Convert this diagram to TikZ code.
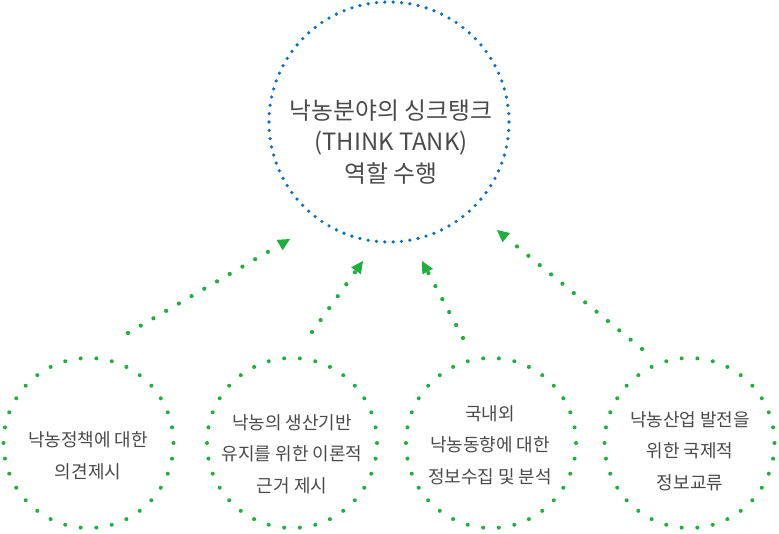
\documentclass[tikz,border=0pt]{standalone}
\usepackage{fontspec}
\newfontfamily\kr{Noto Sans CJK KR}
\usetikzlibrary{arrows.meta}
\definecolor{dotblue}{HTML}{0A6FC2}
\definecolor{dotgreen}{HTML}{1DB03C}
\definecolor{txt}{HTML}{4A4A4A}
\tikzset{
  bigring/.style={circle, minimum size=240pt, inner sep=0pt, draw=dotblue, line width=3.6pt, line cap=round, dash pattern=on 0pt off 8.3776pt},
  smallring/.style={circle, minimum size=170pt, inner sep=0pt, draw=dotgreen, line width=4pt, line cap=round, dash pattern=on 0pt off 15.708pt},
  bigtext/.style={align=center, text=txt, font=\kr\fontsize{23.8}{31.5}\selectfont},
  smalltext/.style={align=center, text=txt, font=\kr\fontsize{18}{31.5}\selectfont},
  dotarrow/.style={draw=dotgreen, line width=4.2pt, line cap=round, dash pattern=on 0pt off 14.7pt, -{Triangle[length=12pt,width=12pt,line width=0pt,fill=dotgreen]}}
}
\begin{document}
\begin{tikzpicture}[x=1pt,y=-1pt]
\useasboundingbox (0,0) rectangle (779,533);
\node[bigring] (b) at (389,122) {};
\node[bigtext] (tb) at (391,142) {낙농분야의 싱크탱크\\(THINK TANK)\\역할 수행};
\node[smallring] (c1) at (88.5,443) {};
\node[smallring] (c2) at (292,443) {};
\node[smallring] (c3) at (491,443) {};
\node[smallring] (c4) at (689.5,443) {};
\node[smalltext] (t1) at (88,456) {낙농정책에 대한\\의견제시};
\node[smalltext] (t2) at (292,454) {낙농의 생산기반\\유지를 위한 이론적\\근거 제시};
\node[smalltext] (t3) at (490,445) {국내외\\낙농동향에 대한\\정보수집 및 분석};
\node[smalltext] (t4) at (690,451) {낙농산업 발전을\\위한 국제적\\정보교류};
\coordinate (s1) at (128,333);
\coordinate (e1) at (290,239);
\coordinate (s2) at (312,332);
\coordinate (e2) at (363,261);
\coordinate (s3) at (463,338);
\coordinate (e3) at (422,261);
\coordinate (s4) at (642,349);
\coordinate (e4) at (497,230);
\draw[dotarrow] (s1) -- (e1);
\draw[dotarrow] (s2) -- (e2);
\draw[dotarrow] (s3) -- (e3);
\draw[dotarrow] (s4) -- (e4);
\end{tikzpicture}
\end{document}
